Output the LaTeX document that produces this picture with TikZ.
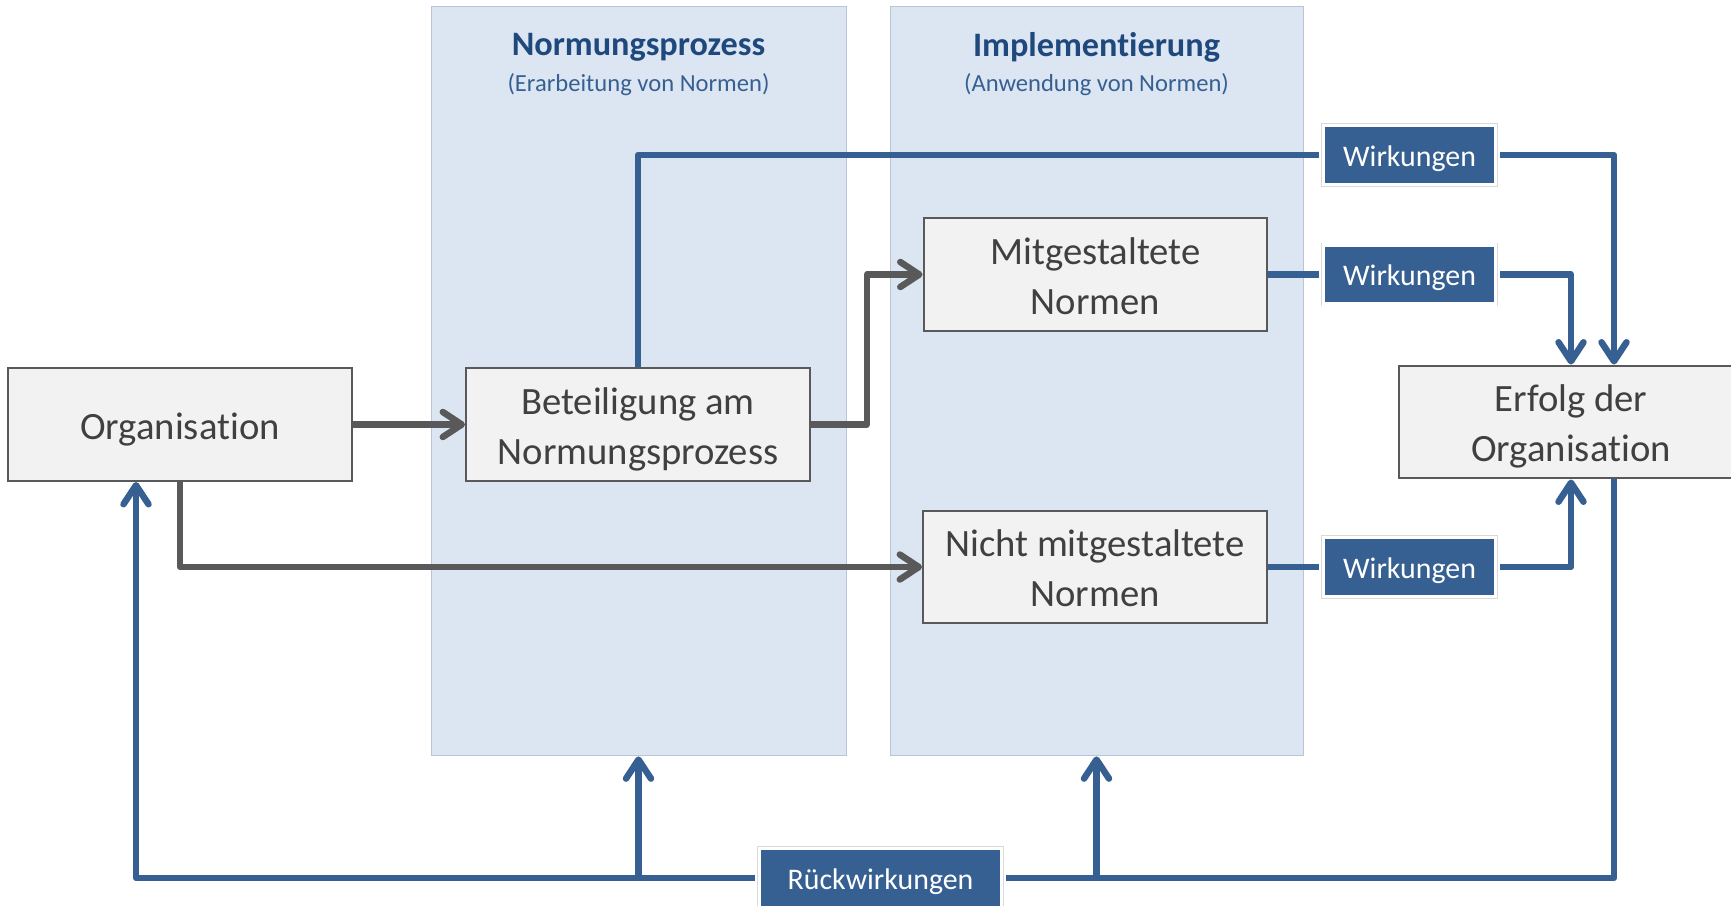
\documentclass[tikz,border=0pt]{standalone}
\usepackage{fontspec}
\setmainfont{Carlito}[Ligatures=NoCommon]
\usetikzlibrary{arrows.meta}

\begin{document}
\begin{tikzpicture}[x=0.02cm,y=-0.02cm,
  panel/.style={shape=rectangle,fill=panelfill,draw=panelline,line width=0.5pt,minimum height=15cm,inner sep=0pt},
  box/.style={shape=rectangle,draw=boxline,fill=boxfill,line width=0.04cm,minimum width=6.88cm,minimum height=2.26cm,align=center,text=boxtext,font=\fontsize{22}{28.5}\selectfont,text height=21.6pt,text depth=5pt},
  twobox/.style={box,text height=50.1pt},
  tag/.style={shape=rectangle,fill=tagblue,text=white,draw=white,line width=0.07cm,minimum height=1.18cm,inner sep=0pt,outer sep=0.09cm,font=\fontsize{17}{20}\selectfont,text height=16.5pt,text depth=3.6pt,preaction={draw=tagframe,line width=0.09cm}},
  title/.style={text=titleblue,font=\bfseries\fontsize{19.5}{22}\selectfont},
  subtitle/.style={text=subblue,font=\fontsize{14}{17}\selectfont},
  grayflow/.style={draw=arrowgray,line width=0.13cm,line join=round,-{Straight Barb[length=0.38cm,width=0.5cm,round]}},
  blueflow/.style={draw=tagblue,line width=0.13cm,line join=round},
  bluearrow/.style={blueflow,-{Straight Barb[length=0.38cm,width=0.5cm,round]}}]
\definecolor{panelfill}{RGB}{220,230,242}
\definecolor{panelline}{RGB}{185,197,214}
\definecolor{boxfill}{RGB}{242,242,242}
\definecolor{boxline}{RGB}{89,89,89}
\definecolor{boxtext}{RGB}{64,64,64}
\definecolor{tagblue}{RGB}{55,96,146}
\definecolor{tagframe}{RGB}{217,217,217}
\definecolor{titleblue}{RGB}{31,73,125}
\definecolor{subblue}{RGB}{55,96,146}
\definecolor{arrowgray}{RGB}{89,89,89}
\useasboundingbox (0,0) rectangle (1731,906);

\node[panel,minimum width=8.3cm] (norm) at (638.5,381) {};
\node[panel,minimum width=8.26cm] (impl) at (1096.5,381) {};
\node[title] (normtitle) at (638.5,47.5) {Normungsprozess};
\node[subtitle] (normsub) at (638.5,84.5) {(Erarbeitung von Normen)};
\node[title] (impltitle) at (1096.5,47.5) {Implementierung};
\node[subtitle] (implsub) at (1096.5,84.5) {(Anwendung von Normen)};

\node[box] (org) at (180,424.5) {Organisation};
\node[twobox] (bet) at (638,424.5) {Beteiligung am\\Normungsprozess};
\node[twobox] (mit) at (1095.5,274.5) {Mitgestaltete\\Normen};
\node[twobox] (nicht) at (1095,567) {Nicht mitgestaltete\\Normen};
\node[twobox] (erfolg) at (1571,422) {Erfolg der\\Organisation};

\node[tag,minimum width=3.44cm] (wirk1) at (1409.5,155) {Wirkungen};
\node[tag,minimum width=3.44cm] (wirk2) at (1409.5,274.5) {Wirkungen};
\node[tag,minimum width=3.44cm] (wirk3) at (1409.5,567) {Wirkungen};
\node[tag,minimum width=4.84cm] (rueck) at (880.5,878) {Rückwirkungen};

\draw[grayflow] (org) -- (bet);
\draw[grayflow] (bet.east) -- (867,424.5) |- (mit.west);
\draw[grayflow] (org.south) |- (nicht.west);

\draw[blueflow] (bet.north) |- (wirk1.west);
\draw[bluearrow] (wirk1.east) -| ([xshift=0.86cm]erfolg.north);
\draw[blueflow] (mit.east) -- (wirk2.west);
\draw[bluearrow] (wirk2.east) -| (erfolg.north);
\draw[blueflow] (nicht.east) -- (wirk3.west);
\draw[bluearrow] (wirk3.east) -| (erfolg.south);
\draw[blueflow] ([xshift=0.86cm]erfolg.south) |- (rueck.east);
\draw[bluearrow] (rueck.west) -| ([xshift=-0.88cm]org.south);
\draw[bluearrow] (norm.south |- rueck.west) -- (norm.south);
\draw[bluearrow] (impl.south |- rueck.east) -- (impl.south);
\end{tikzpicture}
\end{document}
